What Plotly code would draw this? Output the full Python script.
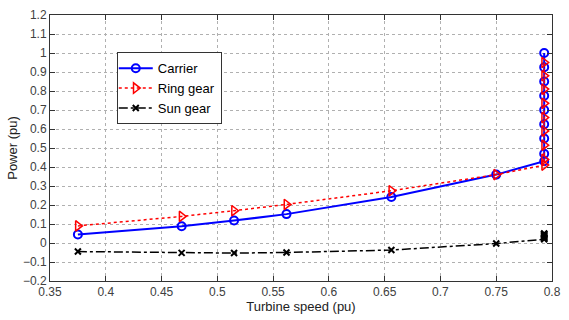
import plotly.graph_objects as go

speed = [0.375, 0.468, 0.515, 0.562, 0.656, 0.75, 0.793, 0.793, 0.793, 0.793, 0.793, 0.793, 0.793, 0.793, 0.793]
carrier = [0.045, 0.088, 0.118, 0.152, 0.242, 0.36, 0.43, 0.47, 0.55, 0.625, 0.70, 0.775, 0.85, 0.925, 1.0]
ring = [0.09, 0.14, 0.17, 0.203, 0.275, 0.36, 0.41, 0.44, 0.515, 0.59, 0.66, 0.735, 0.81, 0.88, 0.95]
sun = [-0.045, -0.052, -0.053, -0.05, -0.037, -0.003, 0.02, 0.024, 0.028, 0.032, 0.036, 0.04, 0.044, 0.048, 0.05]

fig = go.Figure()
fig.add_trace(go.Scatter(x=speed, y=carrier, name="Carrier", mode="lines+markers",
                         line=dict(color="#0000ff", width=2),
                         marker=dict(symbol="circle-open", size=8, color="#0000ff", line=dict(width=2))))
fig.add_trace(go.Scatter(x=speed, y=ring, name="Ring gear", mode="lines+markers",
                         line=dict(color="#ff0000", width=1.5, dash="dot"),
                         marker=dict(symbol="triangle-right-open", size=9, color="#ff0000", line=dict(width=1.5))))
fig.add_trace(go.Scatter(x=speed, y=sun, name="Sun gear", mode="lines+markers",
                         line=dict(color="#000000", width=1.5, dash="dashdot"),
                         marker=dict(symbol="x-thin-open", size=6, color="#000000", line=dict(width=2, color="#000000"))))

axis_common = dict(showline=True, linecolor="#333333", linewidth=1, mirror="ticks", ticks="inside",
                   ticklen=5, tickcolor="#333333", showgrid=True, gridcolor="#b0b0b0", griddash="dot",
                   gridwidth=1, zeroline=False, tickfont=dict(family="Liberation Sans, Arial", size=12, color="#404040"))

fig.update_xaxes(range=[0.35, 0.8], dtick=0.05, tick0=0.35,
                 title=dict(text="Turbine speed (pu)", font=dict(family="Liberation Sans, Arial", size=13, color="#222222"), standoff=1),
                 **axis_common)
fig.update_yaxes(range=[-0.2, 1.2], dtick=0.1, tick0=-0.2,
                 title=dict(text="Power (pu)", font=dict(family="Liberation Sans, Arial", size=13, color="#222222"), standoff=2),
                 **axis_common)

fig.update_layout(width=569, height=320, paper_bgcolor="white", plot_bgcolor="white",
                  margin=dict(l=50, r=8, t=12, b=39),
                  legend=dict(x=0.133, y=0.86, xanchor="left", yanchor="top", bordercolor="#333333", borderwidth=1,
                              bgcolor="white", font=dict(family="Liberation Sans, Arial", size=13, color="#000000"),
                              tracegroupgap=0, itemwidth=34, indentation=-4),
                  showlegend=True)

fig.write_html("out.html")
